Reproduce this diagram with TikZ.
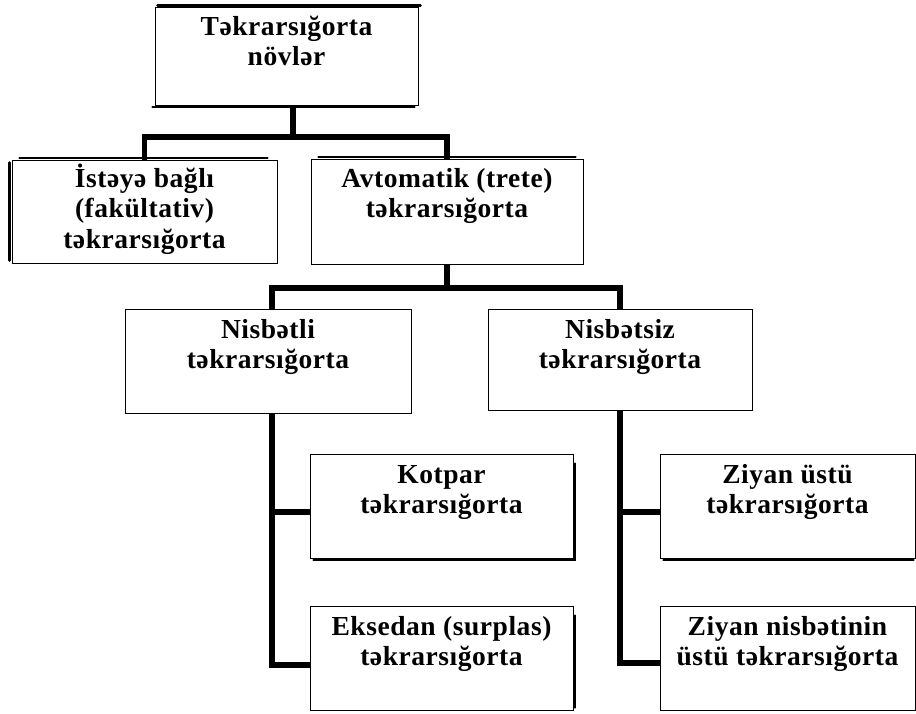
\documentclass[tikz,border=0pt]{standalone}
\usepackage{fontspec}
\setmainfont[LetterSpace=2]{Liberation Serif}
\tikzset{
  box/.style={draw, line width=1pt, inner sep=0pt,
    font=\bfseries\fontsize{27.5}{30.5}\selectfont},
  link/.style={line width=5.5pt},
  boxshadow/.style={line width=2.5pt, line cap=round}
}
% text box: width, height, first line baseline, text
\newcommand{\boxtext}[4]{\parbox[c][#2][t]{#1}{\centering\leavevmode\rule{0pt}{#3}#4\par}}

\begin{document}
\begin{tikzpicture}[x=1pt,y=-1pt]
	\useasboundingbox (0,0) rectangle (916,713);
	% boxes
	\node[box] (top) at (286.5,56) {\boxtext{263pt}{98pt}{28pt}{Təkrarsığorta\\növlər}};
	\node[box] (ist) at (144.5,211.5) {\boxtext{265pt}{103pt}{27pt}{İstəyə bağlı\\(fakültativ)\\təkrarsığorta}};
	\node[box] (avt) at (447,211.5) {\boxtext{272pt}{105pt}{28pt}{Avtomatik (trete)\\təkrarsığorta}};
	\node[box] (nis) at (268,361) {\boxtext{286pt}{104pt}{29pt}{Nisbətli\\təkrarsığorta}};
	\node[box] (nsz) at (620,359.5) {\boxtext{264pt}{101pt}{29pt}{Nisbətsiz\\təkrarsığorta}};
	\node[box] (kot) at (441.5,506) {\boxtext{263pt}{104pt}{29pt}{Kotpar\\təkrarsığorta}};
	\node[box] (eks) at (441.5,658) {\boxtext{263pt}{104pt}{29pt}{Eksedan (surplas)\\təkrarsığorta}};
	\node[box] (zu) at (787.5,506) {\boxtext{255pt}{104pt}{29pt}{Ziyan üstü\\təkrarsığorta}};
	\node[box] (zn) at (787.5,658) {\boxtext{255pt}{104pt}{29pt}{Ziyan nisbətinin\\üstü təkrarsığorta}};
	% shadows
	\draw[boxshadow] ([shift={(3,-1.2)}]top.north west) -- ([shift={(2,-1.2)}]top.north east);
	\draw[boxshadow] ([shift={(-2,1.5)}]top.south west) -- ([shift={(-4,1.5)}]top.south east);
	\draw[boxshadow] ([shift={(-2,3)}]ist.north west) -- ([shift={(-2,-3)}]ist.south west);
	\draw[boxshadow] ([shift={(8,-1.5)}]ist.north west) -- ([shift={(-10,-1.5)}]ist.north east);
	\draw[boxshadow] ([shift={(8,-1.5)}]avt.north west) -- ([shift={(-8,-1.5)}]avt.north east);
	\draw[boxshadow] ([shift={(4,1.5)}]kot.south west) -- ([shift={(1.5,1.5)}]kot.south east) -- ([shift={(1.5,10)}]kot.north east);
	\draw[boxshadow] ([shift={(1.5,-3)}]eks.south east) -- ([shift={(1.5,10)}]eks.north east);
	\draw[boxshadow] ([shift={(4,1.5)}]zu.south west) -- ([shift={(-2,1.5)}]zu.south east);
	% connectors
	\coordinate (j1) at (293,137);
	\coordinate (nl) at (272,288);
	\draw[link] (top.south -| j1) -- (j1);
	\draw[link] (ist.north) |- (j1) -| (avt.north);
	\draw[link] (avt.south) -- (avt.south |- nl);
	\draw[link] (nis.north -| nl) -- (nl) -| (nsz.north);
	\draw[link] (nis.south -| nl) |- ([yshift=-7pt]eks.west);
	\draw[link] ([yshift=-6pt]kot.west) -- ([yshift=-6pt]kot.west -| nl);
	\draw[link] (nsz.south) |- ([yshift=-5pt]zn.west);
	\draw[link] ([yshift=-6pt]zu.west) -- ([yshift=-6pt]zu.west -| nsz.south);
\end{tikzpicture}
\end{document}
